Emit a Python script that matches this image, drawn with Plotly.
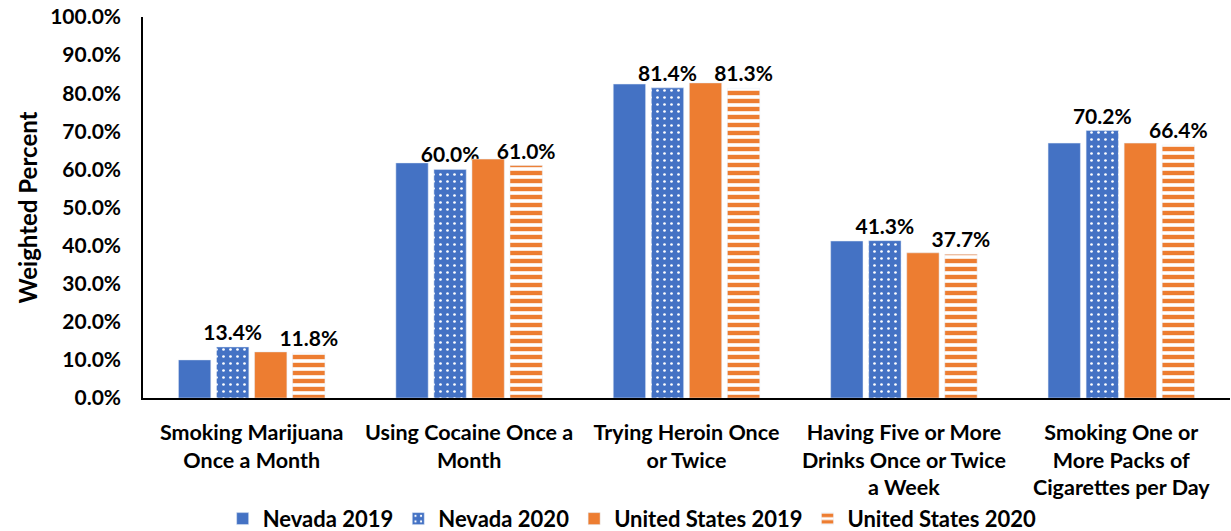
import plotly.graph_objects as go

categories = ["Smoking Marijuana<br>Once a Month", "Using Cocaine Once a<br>Month",
              "Trying Heroin Once<br>or Twice", "Having Five or More<br>Drinks Once or Twice<br>a Week",
              "Smoking One or<br>More Packs of<br>Cigarettes per Day"]
nv2019 = [10.0, 61.7, 82.4, 41.2, 66.9]
nv2020 = [13.4, 60.0, 81.4, 41.3, 70.2]
us2019 = [12.1, 62.7, 82.7, 38.1, 66.9]
us2020 = [11.8, 61.0, 81.3, 37.7, 66.4]

BLUE = "#4472C4"
ORANGE = "#ED7D31"
FONT = "Lato"
LBL = dict(size=21, color="black", family=FONT, weight="bold")

fig = go.Figure()
fig.add_trace(go.Bar(name="Nevada 2019", x=categories, y=nv2019, marker=dict(color=BLUE)))
fig.add_trace(go.Bar(name="Nevada 2020", x=categories, y=nv2020,
                     marker=dict(color=BLUE, pattern=dict(shape=".", fgcolor="white", bgcolor=BLUE,
                                                          fgopacity=1, size=7, solidity=0.12, fillmode="overlay")),
                     text=[f"{v:.1f}%" for v in nv2020], textposition="outside", constraintext="none",
                     textfont=LBL, cliponaxis=False))
fig.add_trace(go.Bar(name="United States 2019", x=categories, y=us2019, marker=dict(color=ORANGE)))
fig.add_trace(go.Bar(name="United States 2020", x=categories, y=us2020,
                     marker=dict(color="white", pattern=dict(shape="-", fgcolor=ORANGE, bgcolor="white",
                                                             fgopacity=1, size=8, solidity=0.55, fillmode="overlay")),
                     text=[f"{v:.1f}%" for v in us2020], textposition="outside", constraintext="none",
                     textfont=LBL, cliponaxis=False))

fig.update_layout(
    width=1231, height=531,
    paper_bgcolor="white", plot_bgcolor="white",
    margin=dict(l=143, r=1, t=17, b=133, autoexpand=False),
    barmode="group", bargap=0.3, bargroupgap=0.15,
    font=dict(family=FONT, color="black", size=21, weight="bold"),
    showlegend=True,
    legend=dict(orientation="h", x=0.45, xanchor="center", y=-0.262, yanchor="top",
                bgcolor="rgba(0,0,0,0)",
                font=dict(size=22, family=FONT, weight="bold"), traceorder="normal"),
)
fig.update_yaxes(range=[0, 100], dtick=10, tickformat=".1f", ticksuffix="%",
                 showgrid=False, showline=True, linecolor="black", linewidth=1.5,
                 ticks="", zeroline=False, ticklabelstandoff=16,
                 title=dict(text="Weighted Percent", font=dict(size=24, family=FONT, weight="bold"), standoff=6),
                 tickfont=dict(size=21, family=FONT, weight="bold"))
fig.update_xaxes(showline=True, linecolor="black", linewidth=1.5, ticks="", ticklabelstandoff=14,
                 tickfont=dict(size=21.5, family=FONT, weight="bold"))

fig.write_html("out.html", config={"displayModeBar": False},
               post_script="document.body.style.margin='0';")
